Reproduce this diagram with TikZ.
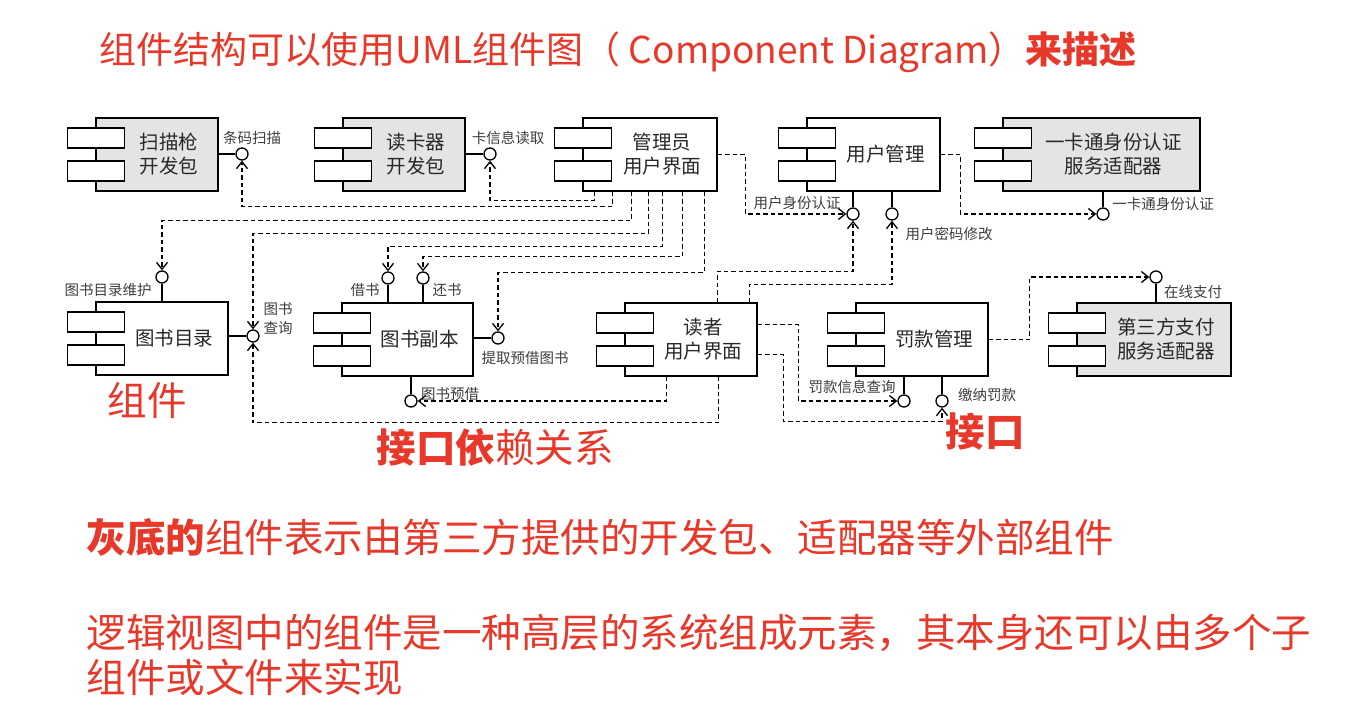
\documentclass[tikz,border=0pt]{standalone}
\usepackage{fontspec}
\setmainfont{Noto Sans CJK SC}
\usetikzlibrary{arrows.meta,positioning}
\definecolor{slidered}{RGB}{232,56,42}
\definecolor{compgray}{RGB}{228,228,228}
\definecolor{inktext}{RGB}{40,40,40}

% two little tabs on the left side of a component
\newcommand\comptabs[1]{%
  \draw[tab] ([shift={(-28,10.5)}]#1.north west) rectangle ++(57,20);
  \draw[tab] ([shift={(-28,43.5)}]#1.north west) rectangle ++(57,20);}

\begin{document}
\begin{tikzpicture}[x=1pt,y=-1pt,>={Straight Barb[length=7,width=11]},line width=1.1pt]
  \tikzstyle{comp}=[rectangle,draw,fill=white,minimum height=73,inner sep=0,line width=1.4]
  \tikzstyle{grey comp}=[comp,fill=compgray]
  \tikzstyle{ctext}=[inktext,align=center,xshift=12,font=\fontsize{19.5}{24}\selectfont]
  \tikzstyle{tab}=[fill=white,line width=1.4]
  \tikzstyle{iface}=[circle,draw,fill=white,minimum size=12,inner sep=0,line width=1.3]
  \tikzstyle{ilabel}=[inktext!90,align=center,font=\fontsize{14.5}{19}\selectfont]
  \tikzstyle{dep}=[->,dash pattern=on 4.5pt off 3pt,line width=1.3]
  \tikzstyle{note}=[slidered,anchor=west,font=\fontsize{39.5}{44}\selectfont]

  \useasboundingbox (0,0) rectangle (1368,710);

  % components
  \node[grey comp,minimum width=122,label={[ctext]center:扫描枪\\开发包}] (scan) at (157,154.5) {};
  \node[grey comp,minimum width=122,label={[ctext]center:读卡器\\开发包}] (card) at (404,154.5) {};
  \node[comp,minimum width=134,label={[ctext]center:管理员\\用户界面}] (admin) at (650,154.5) {};
  \node[comp,minimum width=133,label={[ctext]center:用户管理}] (usermgr) at (873.5,154.5) {};
  \node[grey comp,minimum width=197,label={[ctext]center:一卡通身份认证\\服务适配器}] (ecard) at (1101.5,154.5) {};
  \node[comp,minimum width=132,label={[ctext]center:图书目录}] (catalog) at (162,338.5) {};
  \node[comp,minimum width=131,label={[ctext]center:图书副本}] (copy) at (407.5,339.5) {};
  \node[comp,minimum width=132,label={[ctext]center:读者\\用户界面}] (reader) at (691,339.5) {};
  \node[comp,minimum width=132,label={[ctext]center:罚款管理}] (fine) at (922,339.5) {};
  \node[grey comp,minimum width=154,label={[ctext]center:第三方支付\\服务适配器}] (pay) at (1154,339.5) {};
  \foreach \c in {scan,card,admin,usermgr,ecard,catalog,copy,reader,fine,pay}
    \comptabs{\c};

  % provided interfaces
  \node[iface] (ifscan) at (242,154) {};
  \node[iface] (ifcard) at (490,154) {};
  \node[iface] (ifmaint) at (162,277) {};
  \node[iface] (ifquery) at (253,336) {};
  \node[iface] (ifborrow) at (388,278) {};
  \node[iface] (ifreturn) at (423,278) {};
  \node[iface] (ifpick) at (498,338) {};
  \node[iface] (ifreserve) at (411,401) {};
  \node[iface] (ifauth) at (853,214) {};
  \node[iface] (ifpwd) at (892,214) {};
  \node[iface] (ifecard) at (1103,214) {};
  \node[iface] (ifpay) at (1156,277) {};
  \node[iface] (iffinequery) at (904,401) {};
  \node[iface] (iffinepay) at (942,401) {};

  \draw[line width=1.3] (scan.east |- ifscan) -- (ifscan);
  \draw[line width=1.3] (card.east |- ifcard) -- (ifcard);
  \draw[line width=1.3] (catalog.north -| ifmaint) -- (ifmaint);
  \draw[line width=1.3] (catalog.east |- ifquery) -- (ifquery);
  \draw[line width=1.3] (copy.north -| ifborrow) -- (ifborrow);
  \draw[line width=1.3] (copy.north -| ifreturn) -- (ifreturn);
  \draw[line width=1.3] (copy.east |- ifpick) -- (ifpick);
  \draw[line width=1.3] (copy.south -| ifreserve) -- (ifreserve);
  \draw[line width=1.3] (usermgr.south -| ifauth) -- (ifauth);
  \draw[line width=1.3] (usermgr.south -| ifpwd) -- (ifpwd);
  \draw[line width=1.3] (ecard.south -| ifecard) -- (ifecard);
  \draw[line width=1.3] (pay.north -| ifpay) -- (ifpay);
  \draw[line width=1.3] (fine.south -| iffinequery) -- (iffinequery);
  \draw[line width=1.3] (fine.south -| iffinepay) -- (iffinepay);

  % interface names
  \node[ilabel] (lscan) at (252,138) {条码扫描};
  \node[ilabel] (lcard) at (508,138) {卡信息读取};
  \node[ilabel] (lmaint) at (108,290) {图书目录维护};
  \node[ilabel] (lquery) at (278,318) {图书\\查询};
  \node[ilabel] (lborrow) at (365,290) {借书};
  \node[ilabel] (lreturn) at (447,290) {还书};
  \node[ilabel] (lpick) at (525,358) {提取预借图书};
  \node[ilabel] (lreserve) at (450,394) {图书预借};
  \node[ilabel] (lauth) at (797,203) {用户身份认证};
  \node[ilabel] (lpwd) at (949,234) {用户密码修改};
  \node[ilabel] (lecard) at (1163,204) {一卡通身份认证};
  \node[ilabel] (lpay) at (1193,292) {在线支付};
  \node[ilabel] (lfinequery) at (852,387) {罚款信息查询};
  \node[ilabel] (lfinepay) at (987,395) {缴纳罚款};

  % required interfaces
  \draw[dep] ([xshift=12]admin.south west) -- ++(0,9) -| (ifcard.south);
  \draw[dep] ([xshift=30]admin.south west) -- ++(0,15) -| (ifscan.south);
  \draw[dep] ([xshift=49]admin.south west) -- ++(0,29) -| (ifmaint.north);
  \draw[dep] ([xshift=66]admin.south west) -- ++(0,42) -| (ifquery.north);
  \draw[dep] ([xshift=80]admin.south west) -- ++(0,55) -| (ifborrow.north);
  \draw[dep] ([xshift=100]admin.south west) -- ++(0,65) -| (ifreturn.north);
  \draw[dep] ([xshift=122]admin.south west) -- ++(0,81) -| (ifpick.north);
  \draw[dep] (admin.east) -- ++(28,0) |- (ifauth.west);
  \draw[dep] (usermgr.east) -- ++(20,0) |- (ifecard.west);
  \draw[dep] ([xshift=93]reader.north west) -- ++(0,-31) -| (ifauth.south);
  \draw[dep] ([xshift=125]reader.north west) -- ++(0,-18) -| (ifpwd.south);
  \draw[dep] ([shift={(0,-15)}]reader.east) -- ++(41,0) |- (iffinequery.west);
  \draw[dep] ([shift={(0,15)}]reader.east) -- ++(26,0) -- ++(0,67) -| (iffinepay.south);
  \draw[dep] (fine.east) -- ++(41,0) |- (ifpay.west);
  \draw[dep] ([xshift=42]reader.south west) |- (ifreserve.east);
  \draw[dep] ([xshift=94]reader.south west) -- ++(0,46) -| (ifquery.south);

  % red remarks
  \node[note,font=\fontsize{37}{42}\selectfont] (title) at (96,52) {组件结构可以使用UML组件图（ Component Diagram）\textbf{来描述}};
  \node[note,anchor=center] (ncomp) at (147,400) {组件};
  \node[note] (ndep) at (373,447) {\textbf{接口依}赖关系};
  \node[note,anchor=center] (niface) at (985,432) {\textbf{接口}};
  \node[note] (ngrey) at (83,537) {\textbf{灰底的}组件表示由第三方提供的开发包、适配器等外部组件};
  \node[note] (nview) at (83,633) {逻辑视图中的组件是一种高层的系统组成元素，其本身还可以由多个子};
  \node[note] (nview2) at (83,677) {组件或文件来实现};
\end{tikzpicture}
\end{document}
